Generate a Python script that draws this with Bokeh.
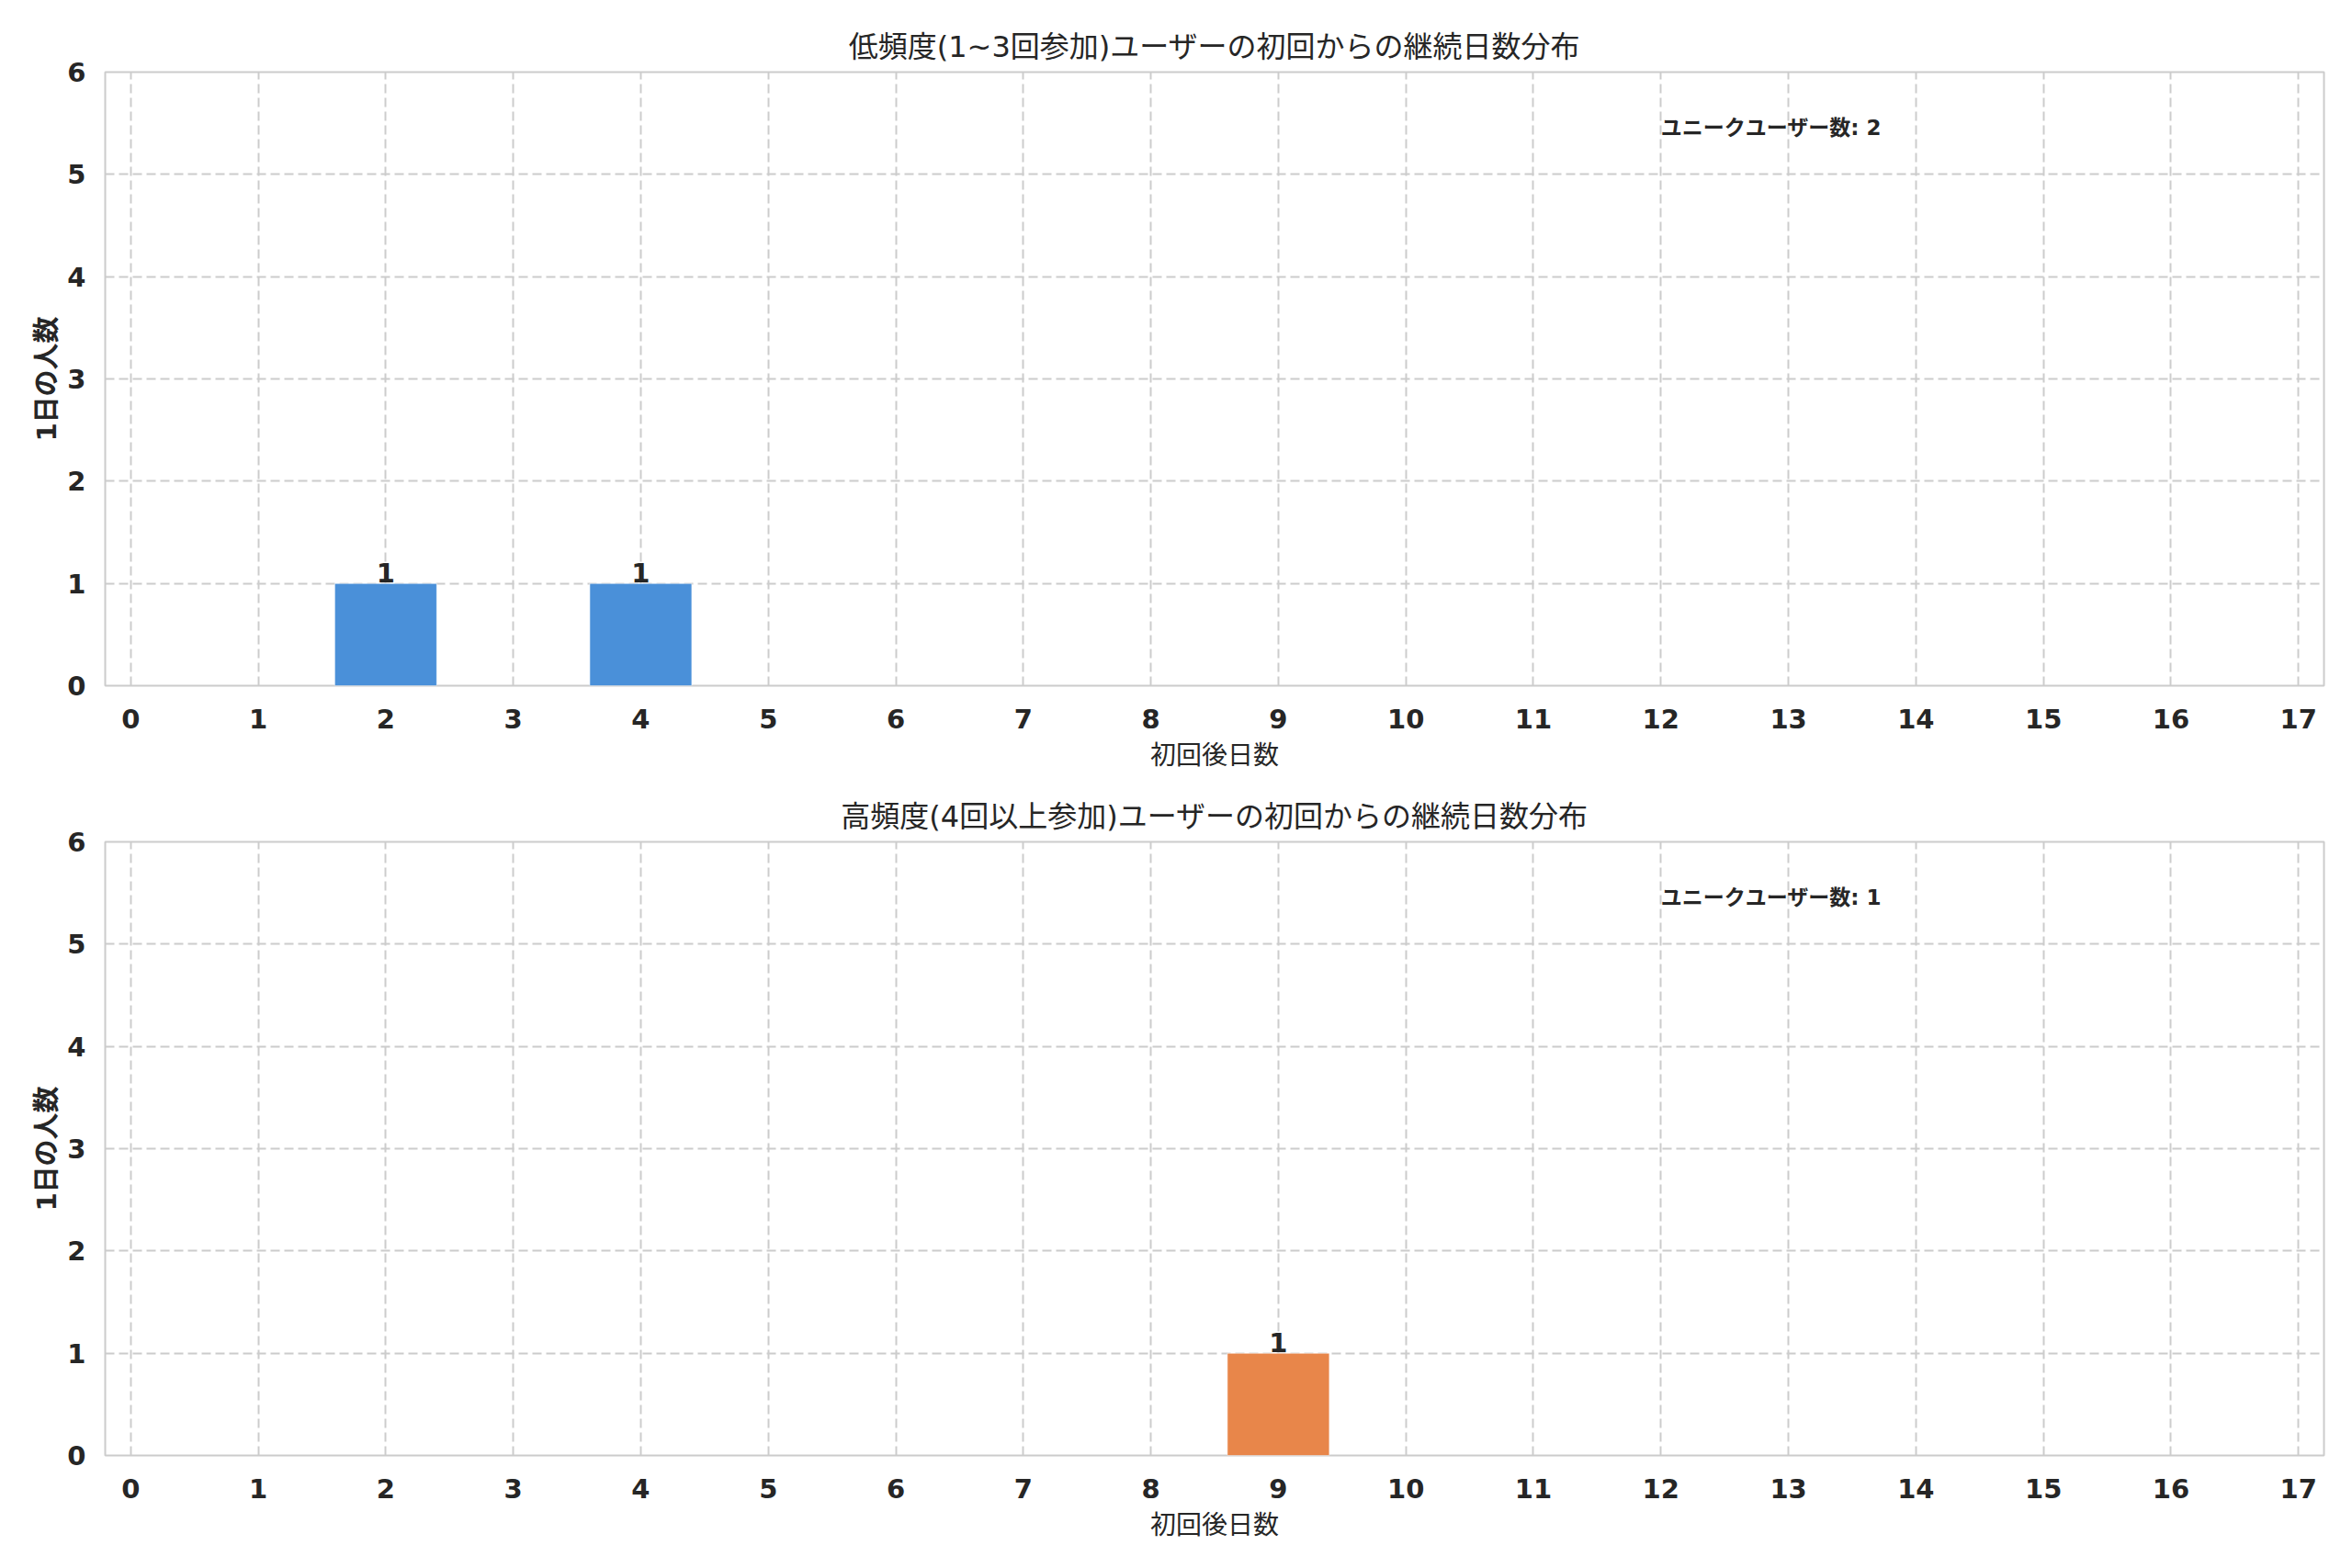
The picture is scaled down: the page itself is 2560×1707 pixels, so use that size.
from bokeh.plotting import figure
from bokeh.layouts import column
from bokeh.models import ColumnDataSource, Label
from bokeh.embed import file_html
from bokeh.resources import INLINE
from bokeh.core.properties import value

# ---- data ----
titles = ["低頻度(1~3回参加)ユーザーの初回からの継続日数分布",
          "高頻度(4回以上参加)ユーザーの初回からの継続日数分布"]
x_label = "初回後日数"
y_label = "1日の人数"
x_ticks = list(range(0, 18))
y_ticks = list(range(0, 7))

x_low = [2, 4]
count_low = [1, 1]
x_high = [9]
count_high = [1]

note_label = "ユニークユーザー数"
users_low = 2
users_high = 1

colors = ["#4A90D9", "#E8864A"]

MIX = "'DejaVu Sans', 'Noto Sans CJK JP', sans-serif"
TXT = "#262626"


def make(title, xs, counts, color, users, top_border):
    bottom_border = 102
    p = figure(width=2552, height=top_border + 668 + bottom_border,
               x_range=(-0.2, 17.2), y_range=(0, 6),
               output_backend="svg", toolbar_location=None,
               min_border_left=114, min_border_right=23,
               min_border_top=top_border, min_border_bottom=bottom_border)
    p.background_fill_color = "white"
    p.border_fill_color = "white"
    p.outline_line_color = "#cccccc"
    p.outline_line_width = 2

    p.title.text = title
    p.title.align = "center"
    p.title.text_font = MIX
    p.title.text_font_size = "32px"
    p.title.text_font_style = "normal"
    p.title.text_color = TXT
    p.title.standoff = 17

    p.xaxis.ticker = x_ticks
    p.yaxis.ticker = y_ticks
    for ax in (p.xaxis, p.yaxis):
        ax.axis_line_color = None
        ax.major_tick_line_color = None
        ax.minor_tick_line_color = None
        ax.major_label_text_font = "DejaVu Sans"
        ax.major_label_text_font_style = "bold"
        ax.major_label_text_font_size = "29px"
        ax.major_label_text_color = TXT
        ax.axis_label_text_font = MIX
        ax.axis_label_text_color = TXT
    p.xaxis.major_label_standoff = 19
    p.yaxis.major_label_standoff = 15
    p.xaxis.axis_label = x_label
    p.xaxis.axis_label_text_font_size = "28px"
    p.xaxis.axis_label_text_font_style = "normal"
    p.xaxis.axis_label_standoff = 10
    p.yaxis.axis_label = y_label
    p.yaxis.axis_label_text_font_size = "29px"
    p.yaxis.axis_label_text_font_style = "bold"
    p.yaxis.axis_label_standoff = 2

    p.grid.grid_line_color = "#cccccc"
    p.grid.grid_line_width = 2
    p.grid.grid_line_dash = "10 5"

    src = ColumnDataSource(dict(x=xs, count=counts, label=[str(c) for c in counts]))
    p.vbar(x="x", top="count", width=0.8, source=src, fill_color=color,
           line_color="white", line_width=1, line_alpha=0.6)
    p.text(x="x", y="count", text="label", source=src, text_align="center",
           text_baseline="middle", text_font=value("DejaVu Sans"),
           text_font_style="bold", text_font_size="29px", text_color=TXT,
           y_offset=-12)

    note = Label(x=12, y=5.46, text=f"{note_label}: {users}",
                 text_font=MIX, text_font_style="bold", text_font_size="23px",
                 text_color=TXT, text_align="left", text_baseline="middle")
    p.add_layout(note)
    return p


p1 = make(titles[0], x_low, count_low, colors[0], users_low, 78)
p2 = make(titles[1], x_high, count_high, colors[1], users_high, 68)

layout = column(p1, p2, spacing=0)
open("out.html", "w").write(file_html(layout, INLINE))
